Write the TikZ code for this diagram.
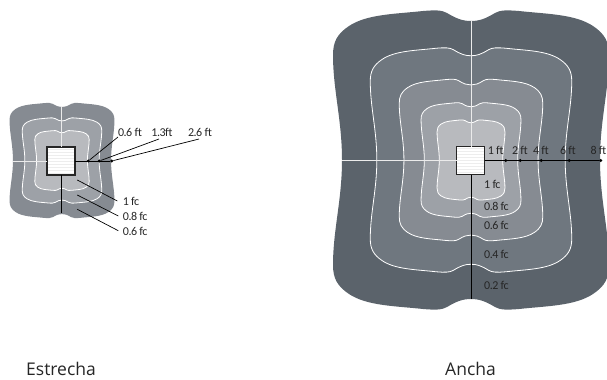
\documentclass[tikz,border=0pt]{standalone}
\usepackage{fontspec}
\setmainfont{Open Sans}
\newfontfamily\tagfont[LetterSpace=-4]{Carlito}
\usetikzlibrary{calc,positioning}

\definecolor{banda}{HTML}{5B636B}
\definecolor{bandb}{HTML}{6F777F}
\definecolor{bandc}{HTML}{868B92}
\definecolor{bandd}{HTML}{9DA1A7}
\definecolor{bande}{HTML}{B8BABE}

% one lobe of the contour, mirrored for the other three
\newcommand{\lobe}[2]{
	(0bp,#2*139bp) .. controls (#1*8bp,#2*139bp) and (#1*14bp,#2*141bp) .. (#1*24bp,#2*147bp)
	.. controls (#1*29bp,#2*150bp) and (#1*36bp,#2*150bp) .. (#1*48bp,#2*149bp)
	.. controls (#1*75bp,#2*146bp) and (#1*104bp,#2*146bp) .. (#1*122bp,#2*134bp)
	.. controls (#1*134bp,#2*126bp) and (#1*138bp,#2*118bp) .. (#1*138bp,#2*105bp)
	.. controls (#1*138bp,#2*70bp) and (#1*129bp,#2*40bp) .. (#1*129bp,0bp)
}
\newcommand{\bandfill}[3]{
	\fill[#1,xscale=#2,yscale=#3] \lobe{1}{1} -- (0bp,0bp) -- cycle \lobe{-1}{1} -- (0bp,0bp) -- cycle
		\lobe{1}{-1} -- (0bp,0bp) -- cycle \lobe{-1}{-1} -- (0bp,0bp) -- cycle;
}
\newcommand{\bandline}[2]{
	\draw[isoline,xscale=#1,yscale=#2] \lobe{1}{1} \lobe{-1}{1} \lobe{1}{-1} \lobe{-1}{-1};
}

\tikzset{
	isoline/.style={draw=white,line width=0.8bp},
	lamp/.style={draw=black!85,fill=white,line width=1.1bp,minimum size=28bp,inner sep=0pt,outer sep=0pt,
		path picture={\foreach \k in {-12,-9,...,12}
			\draw[black!7,line width=.7bp] ($(path picture bounding box.center)+(-14bp,\k*1bp)$) -- ++(28bp,0bp);}},
	dot/.style={circle,fill=black,inner sep=0pt,minimum size=3.2bp},
	wire/.style={draw=black,line width=1bp},
	leader/.style={draw=black,line width=0.7bp},
	mains/.style={draw=white!92!black,line width=0.8bp},
	tag/.style={inner sep=0pt,font=\tagfont\fontsize{12bp}{13bp}\selectfont,text=black!85},
	caption/.style={inner sep=0pt,anchor=west,font=\fontsize{17.5bp}{20bp}\selectfont,text=black!85}
}

\begin{document}
\begin{tikzpicture}[x=1bp,y=-1bp]
	\useasboundingbox (0,0) rectangle (607,379);

	% narrow beam
	\begin{scope}[shift={(62,160.5)}]
		\bandfill{bandc}{.38}{.385}
		\bandfill{bandd}{.288}{.285}
		\bandline{.288}{.285}
		\bandfill{bande}{.197}{.2}
		\bandline{.197}{.2}
	\end{scope}

	\node (lampN) at (61,161) [lamp] {};
	\coordinate (topN) at (61.5,107);
	\coordinate (leftN) at (13,161);
	\coordinate (bottomN) at (61.5,213);
	\node (d1) at (88.3,161) [dot] {};
	\node (d2) at (99.3,161) [dot] {};
	\node (d3) at (111.7,161) [dot] {};

	\draw [mains] (topN) -- (topN |- lampN.north);
	\draw [mains] (leftN) -- (lampN.west);
	\draw [wire] (bottomN |- lampN.south) -- (bottomN);
	\draw [wire] (lampN.east) -- (d3);

	\coordinate (e1) at (118,137);
	\coordinate (e2) at (159,139);
	\coordinate (e3) at (199,139);
	\draw [leader] (d1) -- (e1);
	\draw [leader] (d2) -- (e2);
	\draw [leader] (d3) -- (e3);
	\node (t1) at (130,132) [tag] {0.6 ft};
	\node (t2) at (162,132) [tag] {1.3ft};
	\node (t3) at (200,132) [tag] {2.6 ft};

	\coordinate (s1) at (77.3,180);
	\coordinate (s2) at (77.3,195);
	\coordinate (s3) at (77.3,209.3);
	\coordinate (g1) at (117.3,201);
	\coordinate (g2) at (118.3,216);
	\coordinate (g3) at (118.3,230.7);
	\node (f1) at (122.7,201.7) [tag,anchor=west] {1 fc};
	\node (f2) at (122.7,216.7) [tag,anchor=west] {0.8 fc};
	\node (f3) at (122.7,231.7) [tag,anchor=west] {0.6 fc};
	\draw [leader] (s1) -- (g1);
	\draw [leader] (s2) -- (g2);
	\draw [leader] (s3) -- (g3);

	% wide beam
	\begin{scope}[shift={(471,160)}]
		\bandfill{banda}{1}{1}
		\bandfill{bandb}{.73}{.75}
		\bandline{.73}{.75}
		\bandfill{bandc}{.52}{.54}
		\bandline{.52}{.54}
		\bandfill{bandd}{.362}{.383}
		\bandline{.362}{.383}
		\bandfill{bande}{.246}{.268}
		\bandline{.246}{.268}
	\end{scope}

	\node (lampW) at (470.5,160.5) [lamp] {};
	\coordinate (topW) at (471,21);
	\coordinate (leftW) at (342,160.5);
	\coordinate (bottomW) at (471,299);
	\node (w1) at (505.7,160.5) [dot] {};
	\node (w2) at (520.3,160.5) [dot] {};
	\node (w3) at (541.3,160.5) [dot] {};
	\node (w4) at (569.3,160.5) [dot] {};
	\node (w5) at (600.7,160.5) [dot] {};

	\draw [mains] (topW) -- (topW |- lampW.north);
	\draw [mains] (leftW) -- (lampW.west);
	\draw [wire] (bottomW |- lampW.south) -- (bottomW);
	\draw [wire] (lampW.east) -- (w5);

	\node (a1) at (495.7,150.5) [tag] {1 ft};
	\node (a2) at (520,150.5) [tag] {2 ft};
	\node (a3) at (541,150.5) [tag] {4 ft};
	\node (a4) at (568,150.5) [tag] {6 ft};
	\node (a5) at (606.5,150.5) [tag,anchor=east] {8 ft};

	\node (b1) at (484,184.7) [tag,anchor=west] {1 fc};
	\node (b2) at (484,206) [tag,anchor=west] {0.8 fc};
	\node (b3) at (484,225) [tag,anchor=west] {0.6 fc};
	\node (b4) at (484,254) [tag,anchor=west] {0.4 fc};
	\node (b5) at (484,285) [tag,anchor=west] {0.2 fc};

	\node (narrow) at (26,369) [caption] {Estrecha};
	\node (wide) at (445,369) [caption] {Ancha};
\end{tikzpicture}
\end{document}
